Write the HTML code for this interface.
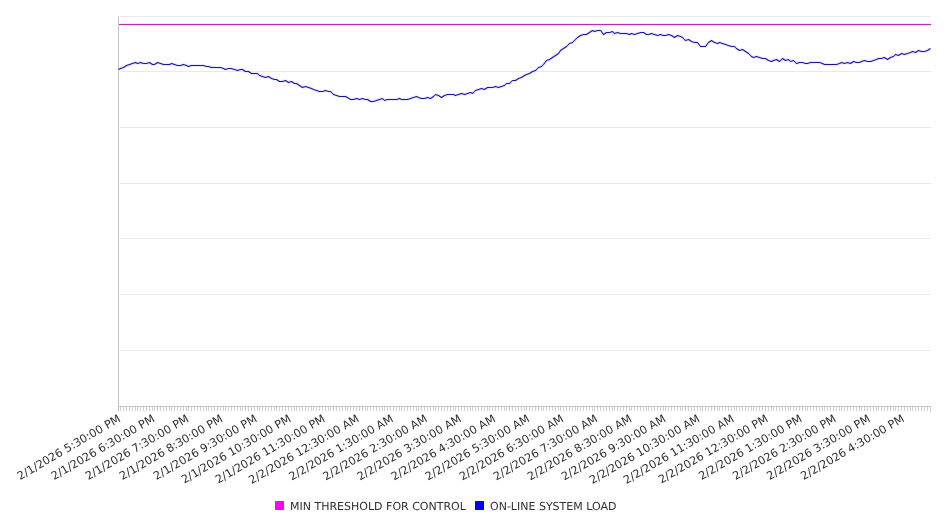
<!DOCTYPE html>
<html lang="en"><head><meta charset="utf-8"><title>System Load</title>
<style>html,body{margin:0;padding:0;background:#fff;overflow:hidden}svg{display:block}text{font-family:"DejaVu Sans","Liberation Sans",sans-serif;fill:#303030;text-rendering:geometricPrecision}</style></head><body>
<svg width="946" height="526" viewBox="0 0 946 526">
<rect width="946" height="526" fill="#fff"/>
<path d="M120 16.5H931M120 71.5H931M120 127.5H931M120 183.5H931M120 238.5H931M120 294.5H931M120 350.5H931" stroke="#e9e9e9" stroke-width="1" fill="none"/>
<path d="M118.5 406V411M120.5 406V411M123.5 406V411M126.5 406V411M129.5 406V411M132.5 406V411M135.5 406V411M137.5 406V411M140.5 406V411M143.5 406V411M146.5 406V411M149.5 406V411M152.5 406V411M154.5 406V411M157.5 406V411M160.5 406V411M163.5 406V411M166.5 406V411M169.5 406V411M171.5 406V411M174.5 406V411M177.5 406V411M180.5 406V411M183.5 406V411M186.5 406V411M188.5 406V411M191.5 406V411M194.5 406V411M197.5 406V411M200.5 406V411M203.5 406V411M206.5 406V411M208.5 406V411M211.5 406V411M214.5 406V411M217.5 406V411M220.5 406V411M223.5 406V411M225.5 406V411M228.5 406V411M231.5 406V411M234.5 406V411M237.5 406V411M240.5 406V411M242.5 406V411M245.5 406V411M248.5 406V411M251.5 406V411M254.5 406V411M257.5 406V411M259.5 406V411M262.5 406V411M265.5 406V411M268.5 406V411M271.5 406V411M274.5 406V411M276.5 406V411M279.5 406V411M282.5 406V411M285.5 406V411M288.5 406V411M291.5 406V411M294.5 406V411M296.5 406V411M299.5 406V411M302.5 406V411M305.5 406V411M308.5 406V411M311.5 406V411M313.5 406V411M316.5 406V411M319.5 406V411M322.5 406V411M325.5 406V411M328.5 406V411M330.5 406V411M333.5 406V411M336.5 406V411M339.5 406V411M342.5 406V411M345.5 406V411M347.5 406V411M350.5 406V411M353.5 406V411M356.5 406V411M359.5 406V411M362.5 406V411M365.5 406V411M367.5 406V411M370.5 406V411M373.5 406V411M376.5 406V411M379.5 406V411M382.5 406V411M384.5 406V411M387.5 406V411M390.5 406V411M393.5 406V411M396.5 406V411M399.5 406V411M401.5 406V411M404.5 406V411M407.5 406V411M410.5 406V411M413.5 406V411M416.5 406V411M418.5 406V411M421.5 406V411M424.5 406V411M427.5 406V411M430.5 406V411M433.5 406V411M435.5 406V411M438.5 406V411M441.5 406V411M444.5 406V411M447.5 406V411M450.5 406V411M453.5 406V411M455.5 406V411M458.5 406V411M461.5 406V411M464.5 406V411M467.5 406V411M470.5 406V411M472.5 406V411M475.5 406V411M478.5 406V411M481.5 406V411M484.5 406V411M487.5 406V411M489.5 406V411M492.5 406V411M495.5 406V411M498.5 406V411M501.5 406V411M504.5 406V411M506.5 406V411M509.5 406V411M512.5 406V411M515.5 406V411M518.5 406V411M521.5 406V411M524.5 406V411M526.5 406V411M529.5 406V411M532.5 406V411M535.5 406V411M538.5 406V411M541.5 406V411M543.5 406V411M546.5 406V411M549.5 406V411M552.5 406V411M555.5 406V411M558.5 406V411M560.5 406V411M563.5 406V411M566.5 406V411M569.5 406V411M572.5 406V411M575.5 406V411M577.5 406V411M580.5 406V411M583.5 406V411M586.5 406V411M589.5 406V411M592.5 406V411M594.5 406V411M597.5 406V411M600.5 406V411M603.5 406V411M606.5 406V411M609.5 406V411M612.5 406V411M614.5 406V411M617.5 406V411M620.5 406V411M623.5 406V411M626.5 406V411M629.5 406V411M631.5 406V411M634.5 406V411M637.5 406V411M640.5 406V411M643.5 406V411M646.5 406V411M648.5 406V411M651.5 406V411M654.5 406V411M657.5 406V411M660.5 406V411M663.5 406V411M665.5 406V411M668.5 406V411M671.5 406V411M674.5 406V411M677.5 406V411M680.5 406V411M682.5 406V411M685.5 406V411M688.5 406V411M691.5 406V411M694.5 406V411M697.5 406V411M700.5 406V411M702.5 406V411M705.5 406V411M708.5 406V411M711.5 406V411M714.5 406V411M717.5 406V411M719.5 406V411M722.5 406V411M725.5 406V411M728.5 406V411M731.5 406V411M734.5 406V411M736.5 406V411M739.5 406V411M742.5 406V411M745.5 406V411M748.5 406V411M751.5 406V411M753.5 406V411M756.5 406V411M759.5 406V411M762.5 406V411M765.5 406V411M768.5 406V411M771.5 406V411M773.5 406V411M776.5 406V411M779.5 406V411M782.5 406V411M785.5 406V411M788.5 406V411M790.5 406V411M793.5 406V411M796.5 406V411M799.5 406V411M802.5 406V411M805.5 406V411M807.5 406V411M810.5 406V411M813.5 406V411M816.5 406V411M819.5 406V411M822.5 406V411M824.5 406V411M827.5 406V411M830.5 406V411M833.5 406V411M836.5 406V411M839.5 406V411M841.5 406V411M844.5 406V411M847.5 406V411M850.5 406V411M853.5 406V411M856.5 406V411M859.5 406V411M861.5 406V411M864.5 406V411M867.5 406V411M870.5 406V411M873.5 406V411M876.5 406V411M878.5 406V411M881.5 406V411M884.5 406V411M887.5 406V411M890.5 406V411M893.5 406V411M895.5 406V411M898.5 406V411M901.5 406V411M904.5 406V411M907.5 406V411M910.5 406V411M912.5 406V411M915.5 406V411M918.5 406V411M921.5 406V411M924.5 406V411M927.5 406V411M930.5 406V412.5" stroke="#d0d0d0" stroke-width="1" fill="none"/>
<path d="M118.5 16V411M118 406.5H931" stroke="#c4c4c4" stroke-width="1" fill="none"/>
<path d="M119 24.5H931" stroke="#ff30ff" stroke-opacity="0.13" stroke-width="3" fill="none"/>
<path d="M119 24.5H931" stroke="#bc2ab8" stroke-width="1" fill="none"/>
<path d="M118.5 69.5L120.5 68.5L123.5 67.5L126.5 65.5L129.5 64.5L132.5 63.5L135.5 62.5L137.5 63.5L140.5 62.5L143.5 63.5L146.5 63.5L149.5 62.5L152.5 64.5L154.5 64.5L157.5 62.5L160.5 63.5L163.5 64.5L166.5 64.5L169.5 64.5L171.5 63.5L174.5 64.5L177.5 65.5L180.5 65.5L183.5 64.5L186.5 65.5L188.5 66.5L191.5 65.5L194.5 65.5L197.5 65.5L200.5 65.5L203.5 65.5L206.5 66.5L208.5 66.5L211.5 67.5L214.5 67.5L217.5 67.5L220.5 67.5L223.5 68.5L225.5 69.5L228.5 68.5L231.5 68.5L234.5 69.5L237.5 70.5L240.5 69.5L242.5 69.5L245.5 71.5L248.5 71.5L251.5 73.5L254.5 73.5L257.5 73.5L259.5 75.5L262.5 76.5L265.5 77.5L268.5 76.5L271.5 78.5L274.5 79.5L276.5 79.5L279.5 81.5L282.5 81.5L285.5 80.5L288.5 82.5L291.5 81.5L294.5 83.5L296.5 83.5L299.5 85.5L302.5 87.5L305.5 86.5L308.5 87.5L311.5 88.5L313.5 89.5L316.5 90.5L319.5 91.5L322.5 91.5L325.5 90.5L328.5 91.5L330.5 91.5L333.5 94.5L336.5 95.5L339.5 96.5L342.5 96.5L345.5 96.5L347.5 97.5L350.5 99.5L353.5 99.5L356.5 98.5L359.5 99.5L362.5 98.5L365.5 99.5L367.5 99.5L370.5 101.5L373.5 101.5L376.5 100.5L379.5 99.5L382.5 98.5L384.5 100.5L387.5 99.5L390.5 99.5L393.5 99.5L396.5 99.5L399.5 98.5L401.5 99.5L404.5 99.5L407.5 99.5L410.5 98.5L413.5 97.5L416.5 96.5L418.5 97.5L421.5 98.5L424.5 98.5L427.5 97.5L430.5 98.5L433.5 96.5L435.5 94.5L438.5 95.5L441.5 97.5L444.5 95.5L447.5 94.5L450.5 94.5L453.5 94.5L455.5 95.5L458.5 94.5L461.5 93.5L464.5 94.5L467.5 93.5L470.5 92.5L472.5 93.5L475.5 90.5L478.5 89.5L481.5 88.5L484.5 89.5L487.5 87.5L489.5 87.5L492.5 87.5L495.5 86.5L498.5 87.5L501.5 86.5L504.5 85.5L506.5 83.5L509.5 83.5L512.5 80.5L515.5 80.5L518.5 78.5L521.5 77.5L524.5 75.5L526.5 74.5L529.5 73.5L532.5 71.5L535.5 70.5L538.5 67.5L541.5 66.5L543.5 64.5L546.5 60.5L549.5 59.5L552.5 57.5L555.5 55.5L558.5 53.5L560.5 50.5L563.5 48.5L566.5 46.5L569.5 43.5L572.5 42.5L575.5 39.5L577.5 37.5L580.5 35.5L583.5 34.5L586.5 34.5L589.5 32.5L592.5 30.5L594.5 31.5L597.5 30.5L600.5 30.5L603.5 34.5L606.5 32.5L609.5 32.5L612.5 31.5L614.5 33.5L617.5 32.5L620.5 33.5L623.5 33.5L626.5 33.5L629.5 34.5L631.5 33.5L634.5 34.5L637.5 33.5L640.5 32.5L643.5 32.5L646.5 34.5L648.5 34.5L651.5 33.5L654.5 34.5L657.5 35.5L660.5 34.5L663.5 35.5L665.5 35.5L668.5 34.5L671.5 35.5L674.5 37.5L677.5 35.5L680.5 36.5L682.5 37.5L685.5 40.5L688.5 39.5L691.5 41.5L694.5 42.5L697.5 42.5L700.5 46.5L702.5 46.5L705.5 46.5L708.5 42.5L711.5 40.5L714.5 42.5L717.5 43.5L719.5 42.5L722.5 43.5L725.5 44.5L728.5 45.5L731.5 46.5L734.5 46.5L736.5 48.5L739.5 50.5L742.5 49.5L745.5 51.5L748.5 53.5L751.5 56.5L753.5 57.5L756.5 56.5L759.5 57.5L762.5 58.5L765.5 58.5L768.5 60.5L771.5 61.5L773.5 60.5L776.5 59.5L779.5 61.5L782.5 58.5L785.5 60.5L788.5 59.5L790.5 61.5L793.5 60.5L796.5 63.5L799.5 62.5L802.5 62.5L805.5 63.5L807.5 63.5L810.5 62.5L813.5 62.5L816.5 62.5L819.5 62.5L822.5 63.5L824.5 64.5L827.5 64.5L830.5 64.5L833.5 64.5L836.5 64.5L839.5 63.5L841.5 62.5L844.5 63.5L847.5 62.5L850.5 63.5L853.5 61.5L856.5 62.5L859.5 62.5L861.5 61.5L864.5 60.5L867.5 61.5L870.5 61.5L873.5 60.5L876.5 59.5L878.5 58.5L881.5 58.5L884.5 57.5L887.5 59.5L890.5 57.5L893.5 56.5L895.5 54.5L898.5 55.5L901.5 53.5L904.5 54.5L907.5 53.5L910.5 52.5L912.5 51.5L915.5 52.5L918.5 50.5L921.5 51.5L924.5 51.5L927.5 50.5L930.5 48.5" stroke="#3030ff" stroke-opacity="0.11" stroke-width="3" fill="none" stroke-linejoin="round"/>
<path d="M118.5 69.5L120.5 68.5L123.5 67.5L126.5 65.5L129.5 64.5L132.5 63.5L135.5 62.5L137.5 63.5L140.5 62.5L143.5 63.5L146.5 63.5L149.5 62.5L152.5 64.5L154.5 64.5L157.5 62.5L160.5 63.5L163.5 64.5L166.5 64.5L169.5 64.5L171.5 63.5L174.5 64.5L177.5 65.5L180.5 65.5L183.5 64.5L186.5 65.5L188.5 66.5L191.5 65.5L194.5 65.5L197.5 65.5L200.5 65.5L203.5 65.5L206.5 66.5L208.5 66.5L211.5 67.5L214.5 67.5L217.5 67.5L220.5 67.5L223.5 68.5L225.5 69.5L228.5 68.5L231.5 68.5L234.5 69.5L237.5 70.5L240.5 69.5L242.5 69.5L245.5 71.5L248.5 71.5L251.5 73.5L254.5 73.5L257.5 73.5L259.5 75.5L262.5 76.5L265.5 77.5L268.5 76.5L271.5 78.5L274.5 79.5L276.5 79.5L279.5 81.5L282.5 81.5L285.5 80.5L288.5 82.5L291.5 81.5L294.5 83.5L296.5 83.5L299.5 85.5L302.5 87.5L305.5 86.5L308.5 87.5L311.5 88.5L313.5 89.5L316.5 90.5L319.5 91.5L322.5 91.5L325.5 90.5L328.5 91.5L330.5 91.5L333.5 94.5L336.5 95.5L339.5 96.5L342.5 96.5L345.5 96.5L347.5 97.5L350.5 99.5L353.5 99.5L356.5 98.5L359.5 99.5L362.5 98.5L365.5 99.5L367.5 99.5L370.5 101.5L373.5 101.5L376.5 100.5L379.5 99.5L382.5 98.5L384.5 100.5L387.5 99.5L390.5 99.5L393.5 99.5L396.5 99.5L399.5 98.5L401.5 99.5L404.5 99.5L407.5 99.5L410.5 98.5L413.5 97.5L416.5 96.5L418.5 97.5L421.5 98.5L424.5 98.5L427.5 97.5L430.5 98.5L433.5 96.5L435.5 94.5L438.5 95.5L441.5 97.5L444.5 95.5L447.5 94.5L450.5 94.5L453.5 94.5L455.5 95.5L458.5 94.5L461.5 93.5L464.5 94.5L467.5 93.5L470.5 92.5L472.5 93.5L475.5 90.5L478.5 89.5L481.5 88.5L484.5 89.5L487.5 87.5L489.5 87.5L492.5 87.5L495.5 86.5L498.5 87.5L501.5 86.5L504.5 85.5L506.5 83.5L509.5 83.5L512.5 80.5L515.5 80.5L518.5 78.5L521.5 77.5L524.5 75.5L526.5 74.5L529.5 73.5L532.5 71.5L535.5 70.5L538.5 67.5L541.5 66.5L543.5 64.5L546.5 60.5L549.5 59.5L552.5 57.5L555.5 55.5L558.5 53.5L560.5 50.5L563.5 48.5L566.5 46.5L569.5 43.5L572.5 42.5L575.5 39.5L577.5 37.5L580.5 35.5L583.5 34.5L586.5 34.5L589.5 32.5L592.5 30.5L594.5 31.5L597.5 30.5L600.5 30.5L603.5 34.5L606.5 32.5L609.5 32.5L612.5 31.5L614.5 33.5L617.5 32.5L620.5 33.5L623.5 33.5L626.5 33.5L629.5 34.5L631.5 33.5L634.5 34.5L637.5 33.5L640.5 32.5L643.5 32.5L646.5 34.5L648.5 34.5L651.5 33.5L654.5 34.5L657.5 35.5L660.5 34.5L663.5 35.5L665.5 35.5L668.5 34.5L671.5 35.5L674.5 37.5L677.5 35.5L680.5 36.5L682.5 37.5L685.5 40.5L688.5 39.5L691.5 41.5L694.5 42.5L697.5 42.5L700.5 46.5L702.5 46.5L705.5 46.5L708.5 42.5L711.5 40.5L714.5 42.5L717.5 43.5L719.5 42.5L722.5 43.5L725.5 44.5L728.5 45.5L731.5 46.5L734.5 46.5L736.5 48.5L739.5 50.5L742.5 49.5L745.5 51.5L748.5 53.5L751.5 56.5L753.5 57.5L756.5 56.5L759.5 57.5L762.5 58.5L765.5 58.5L768.5 60.5L771.5 61.5L773.5 60.5L776.5 59.5L779.5 61.5L782.5 58.5L785.5 60.5L788.5 59.5L790.5 61.5L793.5 60.5L796.5 63.5L799.5 62.5L802.5 62.5L805.5 63.5L807.5 63.5L810.5 62.5L813.5 62.5L816.5 62.5L819.5 62.5L822.5 63.5L824.5 64.5L827.5 64.5L830.5 64.5L833.5 64.5L836.5 64.5L839.5 63.5L841.5 62.5L844.5 63.5L847.5 62.5L850.5 63.5L853.5 61.5L856.5 62.5L859.5 62.5L861.5 61.5L864.5 60.5L867.5 61.5L870.5 61.5L873.5 60.5L876.5 59.5L878.5 58.5L881.5 58.5L884.5 57.5L887.5 59.5L890.5 57.5L893.5 56.5L895.5 54.5L898.5 55.5L901.5 53.5L904.5 54.5L907.5 53.5L910.5 52.5L912.5 51.5L915.5 52.5L918.5 50.5L921.5 51.5L924.5 51.5L927.5 50.5L930.5 48.5" stroke="#1a169e" stroke-width="1.05" fill="none" stroke-linejoin="round"/>
<g style="will-change:transform;opacity:0.999">
<text font-size="11.25" text-anchor="end" transform="translate(121.50 420.9) rotate(-30.3)">2/1/2026 5:30:00 PM</text>
<text font-size="11.25" text-anchor="end" transform="translate(155.57 420.9) rotate(-30.3)">2/1/2026 6:30:00 PM</text>
<text font-size="11.25" text-anchor="end" transform="translate(189.64 420.9) rotate(-30.3)">2/1/2026 7:30:00 PM</text>
<text font-size="11.25" text-anchor="end" transform="translate(223.71 420.9) rotate(-30.3)">2/1/2026 8:30:00 PM</text>
<text font-size="11.25" text-anchor="end" transform="translate(257.78 420.9) rotate(-30.3)">2/1/2026 9:30:00 PM</text>
<text font-size="11.25" text-anchor="end" transform="translate(291.85 420.9) rotate(-30.3)">2/1/2026 10:30:00 PM</text>
<text font-size="11.25" text-anchor="end" transform="translate(325.92 420.9) rotate(-30.3)">2/1/2026 11:30:00 PM</text>
<text font-size="11.25" text-anchor="end" transform="translate(359.99 420.9) rotate(-30.3)">2/2/2026 12:30:00 AM</text>
<text font-size="11.25" text-anchor="end" transform="translate(394.06 420.9) rotate(-30.3)">2/2/2026 1:30:00 AM</text>
<text font-size="11.25" text-anchor="end" transform="translate(428.13 420.9) rotate(-30.3)">2/2/2026 2:30:00 AM</text>
<text font-size="11.25" text-anchor="end" transform="translate(462.20 420.9) rotate(-30.3)">2/2/2026 3:30:00 AM</text>
<text font-size="11.25" text-anchor="end" transform="translate(496.27 420.9) rotate(-30.3)">2/2/2026 4:30:00 AM</text>
<text font-size="11.25" text-anchor="end" transform="translate(530.34 420.9) rotate(-30.3)">2/2/2026 5:30:00 AM</text>
<text font-size="11.25" text-anchor="end" transform="translate(564.41 420.9) rotate(-30.3)">2/2/2026 6:30:00 AM</text>
<text font-size="11.25" text-anchor="end" transform="translate(598.48 420.9) rotate(-30.3)">2/2/2026 7:30:00 AM</text>
<text font-size="11.25" text-anchor="end" transform="translate(632.55 420.9) rotate(-30.3)">2/2/2026 8:30:00 AM</text>
<text font-size="11.25" text-anchor="end" transform="translate(666.62 420.9) rotate(-30.3)">2/2/2026 9:30:00 AM</text>
<text font-size="11.25" text-anchor="end" transform="translate(700.69 420.9) rotate(-30.3)">2/2/2026 10:30:00 AM</text>
<text font-size="11.25" text-anchor="end" transform="translate(734.76 420.9) rotate(-30.3)">2/2/2026 11:30:00 AM</text>
<text font-size="11.25" text-anchor="end" transform="translate(768.83 420.9) rotate(-30.3)">2/2/2026 12:30:00 PM</text>
<text font-size="11.25" text-anchor="end" transform="translate(802.90 420.9) rotate(-30.3)">2/2/2026 1:30:00 PM</text>
<text font-size="11.25" text-anchor="end" transform="translate(836.97 420.9) rotate(-30.3)">2/2/2026 2:30:00 PM</text>
<text font-size="11.25" text-anchor="end" transform="translate(871.04 420.9) rotate(-30.3)">2/2/2026 3:30:00 PM</text>
<text font-size="11.25" text-anchor="end" transform="translate(905.11 420.9) rotate(-30.3)">2/2/2026 4:30:00 PM</text>
<rect x="275" y="501" width="9" height="9" fill="#ff00ff"/>
<text x="290" y="510" font-size="11">MIN THRESHOLD FOR CONTROL</text>
<rect x="475" y="501" width="9" height="9" fill="#0000ff"/>
<text x="490" y="510" font-size="11">ON-LINE SYSTEM LOAD</text>
</g>
</svg></body></html>
